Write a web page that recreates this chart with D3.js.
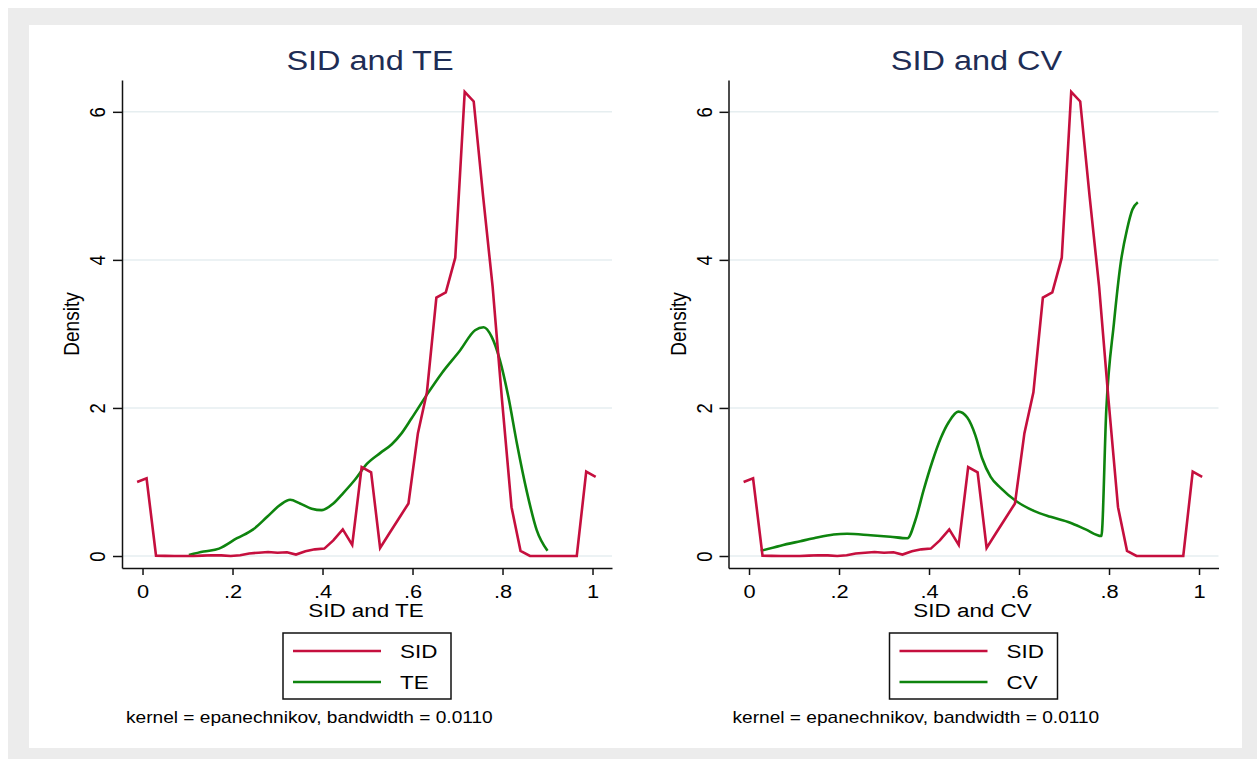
<!DOCTYPE html>
<html>
<head>
<meta charset="utf-8">
<script src="https://cdn.jsdelivr.net/npm/d3@7"></script>
<style>
  body { margin: 0; background: #fff; }
  text { font-family: "Liberation Sans", Arial, sans-serif; fill: #000; }
</style>
</head>
<body>
<div class="canvas"></div>
<script>
// kernel density of SID (same in both panels), evaluated on 50 points
const sidX = [-0.012, 0.009, 0.030, 0.050, 0.071, 0.092, 0.113, 0.133, 0.154, 0.175,
  0.196, 0.217, 0.237, 0.258, 0.279, 0.300, 0.321, 0.341, 0.362, 0.383,
  0.404, 0.424, 0.445, 0.466, 0.487, 0.508, 0.528, 0.549, 0.570, 0.591,
  0.612, 0.632, 0.653, 0.674, 0.695, 0.716, 0.736, 0.757, 0.778, 0.799,
  0.820, 0.840, 0.861, 0.882, 0.903, 0.924, 0.944, 0.965, 0.986, 1.007]
const sidY = [1.00, 1.05, 0.005, 0.002, 0.0, 0.0, 0.0, 0.005, 0.01, 0.008,
  0.0, 0.01, 0.035, 0.045, 0.055, 0.045, 0.05, 0.02, 0.065, 0.09,
  0.10, 0.21, 0.36, 0.15, 1.20, 1.13, 0.11, 0.31, 0.51, 0.71,
  1.66, 2.21, 3.49, 3.56, 4.03, 6.27, 6.14, 4.85, 3.64, 2.10,
  0.66, 0.07, 0.0, 0.0, 0.0, 0.0, 0.0, 0.0, 1.14, 1.07]

// TE density
const teX = [0.103, 0.136, 0.170, 0.210, 0.246, 0.277, 0.306, 0.328, 0.350, 0.376,
  0.398, 0.424, 0.446, 0.472, 0.498, 0.528, 0.554, 0.576, 0.598, 0.632,
  0.665, 0.706, 0.739, 0.758, 0.776, 0.794, 0.813, 0.832, 0.854, 0.876, 0.900]
const teY = [0.014, 0.06, 0.10, 0.24, 0.36, 0.53, 0.69, 0.76, 0.71, 0.64,
  0.62, 0.71, 0.85, 1.03, 1.24, 1.39, 1.51, 1.66, 1.86, 2.18,
  2.47, 2.78, 3.05, 3.09, 2.96, 2.65, 2.15, 1.52, 0.87, 0.35, 0.07]

// CV density
const cvX = [0.026, 0.070, 0.114, 0.144, 0.188, 0.218, 0.270, 0.314, 0.352, 0.370,
  0.388, 0.407, 0.426, 0.444, 0.465, 0.485, 0.503, 0.518, 0.537, 0.559,
  0.594, 0.633, 0.670, 0.714, 0.748, 0.783, 0.794, 0.811, 0.826, 0.840, 0.852, 0.864]
const cvY = [0.07, 0.14, 0.20, 0.24, 0.29, 0.30, 0.28, 0.26, 0.24, 0.49,
  0.89, 1.27, 1.59, 1.81, 1.95, 1.87, 1.63, 1.32, 1.07, 0.92,
  0.74, 0.61, 0.53, 0.45, 0.36, 0.27, 1.98, 3.15, 3.96, 4.41, 4.68, 4.78]

const xTicks = [0, 0.2, 0.4, 0.6, 0.8, 1]
const xTickLabels = ['0', '.2', '.4', '.6', '.8', '1']
const yTicks = [0, 2, 4, 6]
const panelTitles = ['SID and TE', 'SID and CV']
const otherNames = ['TE', 'CV']
const note = 'kernel = epanechnikov, bandwidth = 0.0110'

const colors = { sid: '#c50f3e', other: '#0e840e', title: '#1e2d55', grid: '#e6eef0' }
const SX = 1.18 // picture is a bit wider than the font

const svg = d3.select('.canvas')
  .append('svg')
  .attr('width', 1257)
  .attr('height', 759)

// outer gray frame and white plot region
svg.append('rect').attr('x', 8).attr('y', 8).attr('width', 1249).attr('height', 751).attr('fill', '#ececec')
svg.append('rect').attr('x', 29).attr('y', 25).attr('width', 1213).attr('height', 723).attr('fill', '#fff')

const place = (sel, x, y, rot) =>
  sel.attr('transform', `translate(${x},${y}) scale(${SX},1)` + (rot ? ' rotate(-90)' : ''))

const drawPanel = (off, title, otherName, ox, oy) => {
  const g = svg.append('g').attr('transform', `translate(${off},0)`)

  const x = d3.scaleLinear().domain([-0.0456, 1.0433]).range([122, 612])
  const y = d3.scaleLinear().domain([-0.162, 6.43]).range([568, 80])

  // title
  place(g.append('text'), 370, 70, false)
    .attr('text-anchor', 'middle')
    .attr('font-size', 27.5)
    .style('fill', colors.title)
    .text(title)

  // grid lines
  g.selectAll('line.grid')
    .data(yTicks)
    .enter().append('line')
      .attr('class', 'grid')
      .attr('x1', 122).attr('x2', 612)
      .attr('y1', d => y(d)).attr('y2', d => y(d))
      .attr('stroke', colors.grid)
      .attr('stroke-width', 1.5)

  // axes
  const yAxis = g.append('g')
    .attr('transform', 'translate(122,0)')
    .call(d3.axisLeft(y).tickValues(yTicks).tickFormat(d3.format('d')).tickSize(9).tickSizeOuter(0))
  yAxis.selectAll('text')
    .attr('x', null).attr('dy', null)
    .attr('text-anchor', 'middle')
    .attr('font-size', 18.5)
    .each(function() { place(d3.select(this), -17, 0, true) })

  const xAxis = g.append('g')
    .attr('transform', 'translate(0,568)')
    .call(d3.axisBottom(x).tickValues(xTicks).tickFormat((d, i) => xTickLabels[i]).tickSize(7).tickSizeOuter(0))
  xAxis.selectAll('text')
    .attr('y', null).attr('dy', null)
    .attr('font-size', 18.5)
    .each(function() { place(d3.select(this), 0, 30, false) })

  g.selectAll('.domain, .tick line')
    .attr('stroke', '#111')
    .attr('stroke-width', 1.5)
  g.selectAll('.tick text').style('font-family', '"Liberation Sans", Arial, sans-serif').style('fill', '#000')

  // axis titles
  place(g.append('text'), 79, 324, true)
    .attr('text-anchor', 'middle')
    .attr('font-size', 19)
    .text('Density')
  place(g.append('text'), 366, 617, false)
    .attr('text-anchor', 'middle')
    .attr('font-size', 19)
    .text(title)

  // curves
  const line = d3.line().x(d => x(d[0])).y(d => y(d[1]))
  g.append('path')
    .attr('d', line.curve(d3.curveMonotoneX)(d3.zip(ox, oy)))
    .attr('fill', 'none')
    .attr('stroke', colors.other)
    .attr('stroke-width', 2.6)
    .attr('stroke-linejoin', 'round')
  g.append('path')
    .attr('d', line.curve(d3.curveLinear)(d3.zip(sidX, sidY)))
    .attr('fill', 'none')
    .attr('stroke', colors.sid)
    .attr('stroke-width', 2.6)

  // legend
  const legend = g.append('g')
  legend.append('rect')
    .attr('x', 283).attr('y', 633).attr('width', 168).attr('height', 66)
    .attr('fill', '#fff').attr('stroke', '#111').attr('stroke-width', 1.5)
  const items = [{ name: 'SID', color: colors.sid }, { name: otherName, color: colors.other }]
  items.forEach((item, i) => {
    const ly = 651 + i * 31
    legend.append('line')
      .attr('x1', 293).attr('x2', 381).attr('y1', ly).attr('y2', ly)
      .attr('stroke', item.color).attr('stroke-width', 2.6)
    place(legend.append('text'), 400, ly + 7, false)
      .attr('font-size', 19)
      .text(item.name)
  })

  // note
  place(g.append('text'), 126, 723, false)
    .attr('font-size', 16.2)
    .text(note)
}

drawPanel(0, panelTitles[0], otherNames[0], teX, teY)
drawPanel(606.5, panelTitles[1], otherNames[1], cvX, cvY)
</script>
</body>
</html>
